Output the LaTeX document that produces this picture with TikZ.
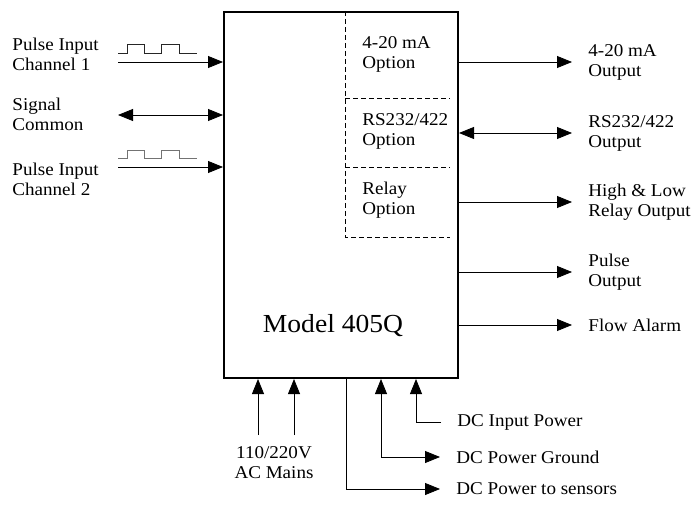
\documentclass[tikz,border=0pt]{standalone}
\usepackage{fontspec}
\setmainfont{Liberation Serif}[FakeStretch=1.06]
\usetikzlibrary{arrows.meta}

\begin{document}
\begin{tikzpicture}[->,>={Triangle[length=15pt,width=12pt]},x=1pt,y=-1pt,line width=0.8pt,
    lbl/.style={font=\fontsize{18}{20}\selectfont,align=left,inner sep=0pt},
    outlbl/.style={lbl,anchor=west,inner xsep=16pt},
    optline/.style={-,dash pattern=on 5pt off 3pt},
    wave/.style={-,line width=0.9pt}]

  \useasboundingbox (0,0) rectangle (693,505);

  % main unit
  \node[draw,line width=2pt,minimum width=234pt,minimum height=366pt,inner sep=0pt,anchor=north west] (model) at (223,11) {};
  \node[font=\fontsize{26}{30}\selectfont] (name) at (333,326) {Model 405Q};

  % option slots
  \draw[optline] (345,11) -- (345,237) -- (450,237);
  \draw[optline] (345,98) -- (450,98);
  \draw[optline] (345,167) -- (450,167);
  \node[lbl,anchor=west] (opt1) at (362,54) {4-20 mA\\Option};
  \node[lbl,anchor=west] (opt2) at (362,131) {RS232/422\\Option};
  \node[lbl,anchor=west] (opt3) at (362,200) {Relay\\Option};

  % inputs
  \node[lbl,anchor=west] (pin1) at (12,54) {Pulse Input\\Channel 1};
  \node[lbl,anchor=west] (sig) at (12,114) {Signal\\Common};
  \node[lbl,anchor=west] (pin2) at (12,179) {Pulse Input\\Channel 2};
  \coordinate (in1) at (118,62);
  \coordinate (com) at (118,115);
  \coordinate (in2) at (118,167);
  \draw (in1) -- (in1 -| model.west);
  \draw[<->] (com) -- (com -| model.west);
  \draw (in2) -- (in2 -| model.west);
  \draw[wave,black!85] (118,53) -- (127,53) -- (127,44) -- (144,44) -- (144,53) -- (161,53)
    -- (161,44) -- (179,44) -- (179,53) -- (197,53);
  \draw[wave,black!55] (118,158) -- (127,158) -- (127,150) -- (144,150) -- (144,158) -- (161,158)
    -- (161,150) -- (179,150) -- (179,158) -- (197,158);

  % outputs
  \node[outlbl] (out1) at (572,62) {4-20 mA\\Output};
  \node[outlbl] (out2) at (572,133) {RS232/422\\Output};
  \node[outlbl] (out3) at (572,202) {High \& Low\\Relay Output};
  \node[outlbl] (out4) at (572,272) {Pulse\\Output};
  \node[outlbl] (out5) at (572,325) {Flow Alarm};
  \draw (model.east |- out1) -- (out1);
  \draw[<->] (model.east |- out2) -- (out2);
  \draw (model.east |- out3) -- (out3);
  \draw (model.east |- out4) -- (out4);
  \draw (model.east |- out5) -- (out5);

  % power
  \node[lbl,align=center] (acm) at (274,463) {110/220V\\AC Mains};
  \coordinate (ac1) at ([xshift=-83pt,yshift=-56pt]model.south);
  \coordinate (ac2) at ([xshift=-47pt,yshift=-56pt]model.south);
  \draw (ac1) -- ([xshift=-83pt]model.south);
  \draw (ac2) -- ([xshift=-47pt]model.south);

  \node[outlbl] (dcin) at (441,422) {DC Input Power};
  \node[outlbl] (dcgnd) at (440,457) {DC Power Ground};
  \node[outlbl] (dcsen) at (440,489) {DC Power to sensors};
  \draw (dcin) -| ([xshift=75pt]model.south);
  \draw[<->] ([xshift=40pt]model.south) |- (dcgnd);
  \draw ([xshift=5pt]model.south) |- (dcsen);
\end{tikzpicture}
\end{document}
